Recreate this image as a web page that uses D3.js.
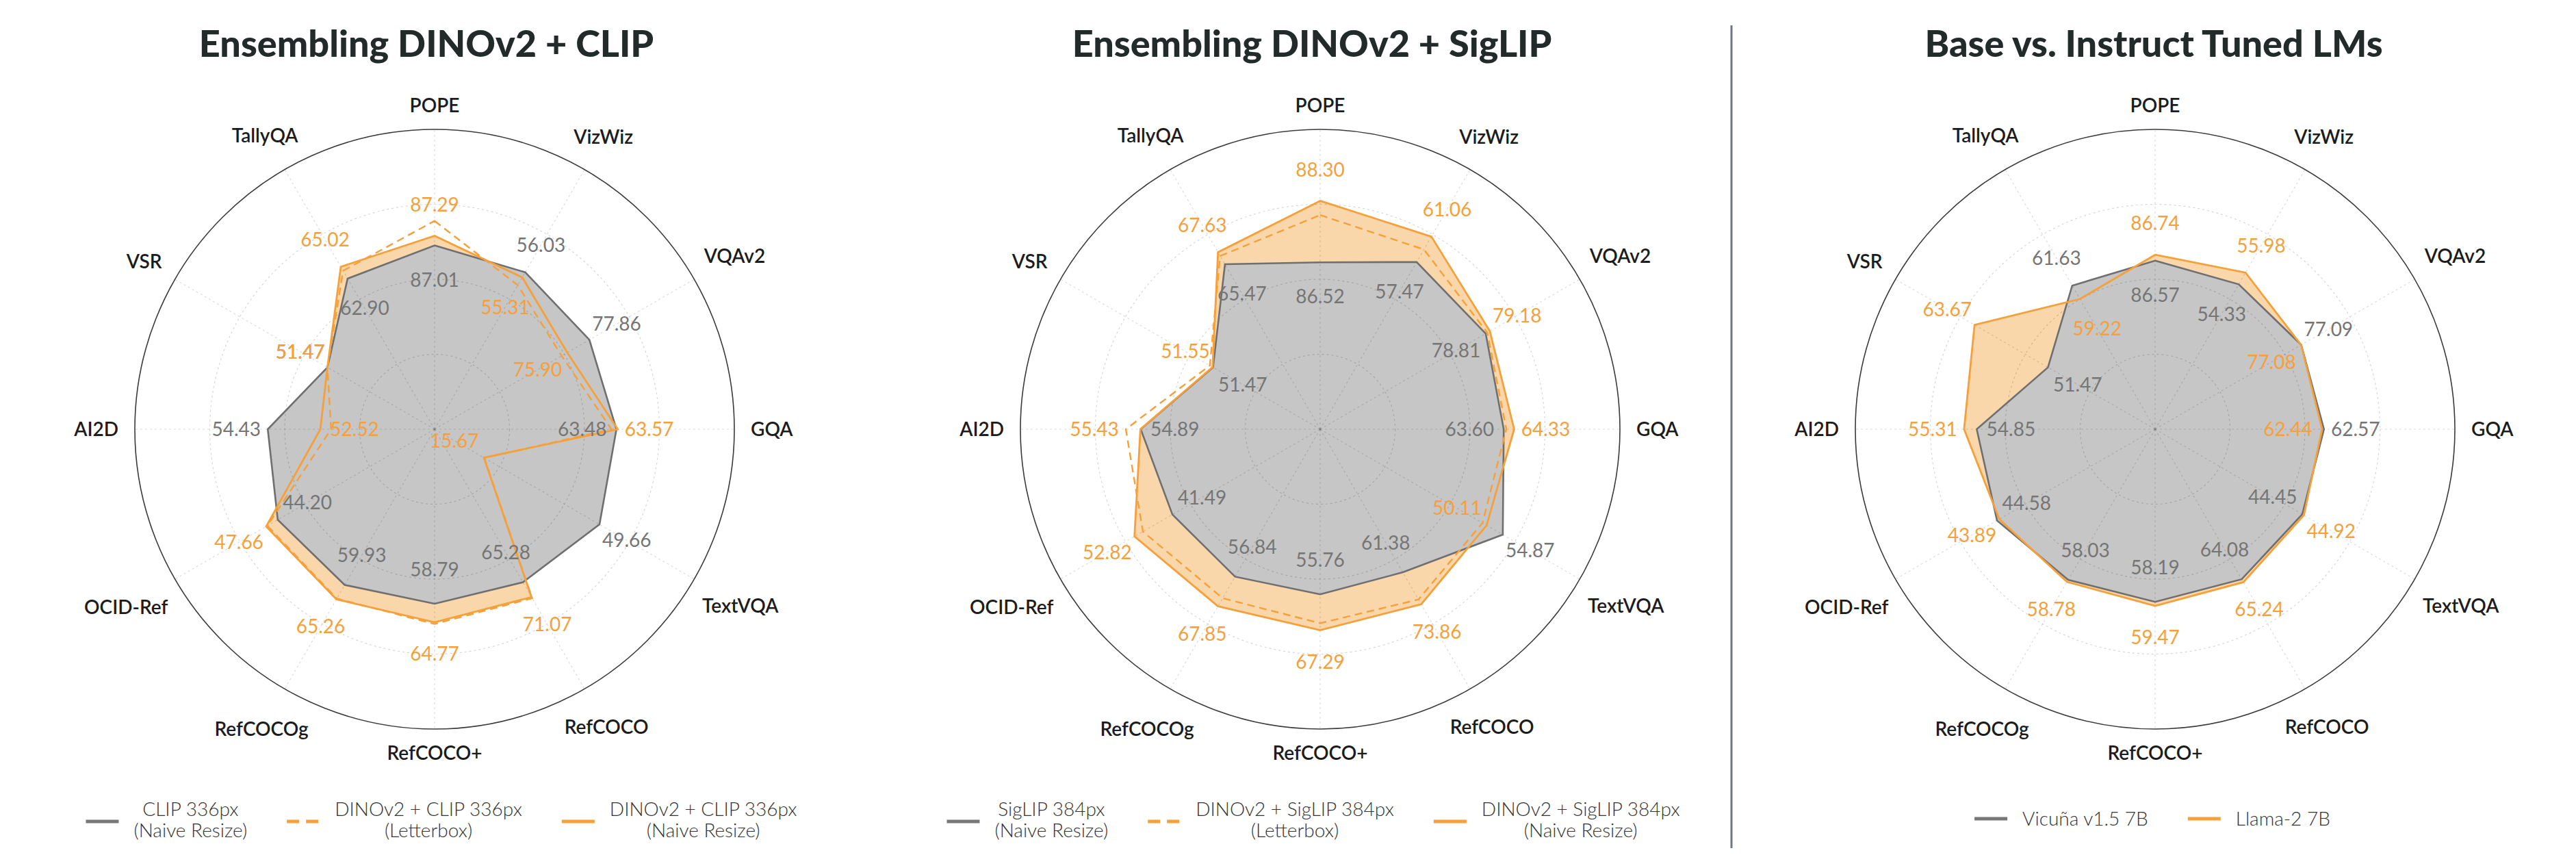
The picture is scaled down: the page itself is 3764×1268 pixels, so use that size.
<!DOCTYPE html>
<html><head><meta charset="utf-8">
<script src="https://cdn.jsdelivr.net/npm/d3@7"></script>
<style>body{margin:0;background:#fff}</style></head>
<body><svg id="chart" width="3764" height="1268"></svg>
<script>
// ---------------- DATA ----------------
const categories = ["POPE","VizWiz","VQAv2","GQA","TextVQA","RefCOCO","RefCOCO+","RefCOCOg","OCID-Ref","AI2D","VSR","TallyQA"];
// radial axis range of each benchmark (value at centre, value at outer circle)
const axisMin = [81.69, 33.92, 64.15, 50.74, 1.17, 5.5, 2.62, 1.96, -2.65, 48.37, 33.67, 35.81];
const axisMax = [90.37, 70.50, 87.14, 71.74, 77.5, 106.9, 99.1, 98.6, 74.9, 59.26, 76.8, 82.5];

// Chart 1 : Ensembling DINOv2 + CLIP
const clip336Naive       = [87.01, 56.03, 77.86, 63.48, 49.66, 65.28, 58.79, 59.93, 44.20, 54.43, 51.47, 62.90];
const dinoClipLetterbox  = [87.72, 54.22, 75.40, 63.13, 15.80, 71.50, 65.30, 65.00, 47.30, 52.13, 51.47, 64.30];
const dinoClipNaive      = [87.29, 55.31, 75.90, 63.57, 15.67, 71.07, 64.77, 65.26, 47.66, 52.52, 51.47, 65.02];
const dinoClipLabels     = [87.29, 55.31, 75.90, 63.57, 15.67, 71.07, 64.77, 65.26, 47.66, 52.52, 51.47, 65.02];

// Chart 2 : Ensembling DINOv2 + SigLIP
const siglip384Naive      = [86.52, 57.47, 78.81, 63.60, 54.87, 61.38, 55.76, 56.84, 41.49, 54.89, 51.47, 65.47];
const dinoSiglipLetterbox = [87.89, 59.24, 78.95, 63.78, 48.90, 72.00, 65.05, 64.85, 50.30, 55.43, 52.00, 66.96];
const dinoSiglipNaive     = [88.30, 61.06, 79.18, 64.33, 50.11, 73.86, 67.29, 67.85, 52.82, 54.90, 51.55, 67.63];
const dinoSiglipLabels    = [88.30, 61.06, 79.18, 64.33, 50.11, 73.86, 67.29, 67.85, 52.82, 55.43, 51.55, 67.63];

// Chart 3 : Base vs. Instruct Tuned LMs
const vicuna7b = [86.57, 54.33, 77.09, 62.57, 44.45, 64.08, 58.19, 58.03, 44.58, 54.85, 51.47, 61.63];
const llama27b = [86.74, 55.98, 77.08, 62.44, 44.92, 65.24, 59.47, 58.78, 43.89, 55.31, 63.67, 59.22];

// ---------------- LAYOUT ----------------
const W = 3764, H = 1268, R = 438, CY = 627;
const ORANGE = "#F5A03A", ORANGE_FILL = "#F9D7AB", GRAY_LINE = "#6f6f6f", GRAY_FILL = "#c6c6c6", GRAY_TEXT = "#757575";
const FONT = "Lato, 'Open Sans', sans-serif";
const OUT = 46, IN = 50;

const charts = [
  { cx: 635, titleShift: -12, title: "Ensembling DINOv2 + CLIP",
    base: clip336Naive, dashed: dinoClipLetterbox, solid: dinoClipNaive, orangeLabels: dinoClipLabels,
    baseSide:   [-1, 1, 1,-1, 1,-1,-1,-1,-1, 1, 1,-1],
    orangeSide: [ 1,-1,-1, 1,-1, 1, 1, 1, 1,-1, 1, 1],
    legend: [ {kind:"gray", lines:["CLIP 336px","(Naive Resize)"]},
              {kind:"dash", lines:["DINOv2 + CLIP 336px","(Letterbox)"]},
              {kind:"solid", lines:["DINOv2 + CLIP 336px","(Naive Resize)"]} ], legendShift: 10 },
  { cx: 1929, titleShift: -12, title: "Ensembling DINOv2 + SigLIP",
    base: siglip384Naive, dashed: dinoSiglipLetterbox, solid: dinoSiglipNaive, orangeLabels: dinoSiglipLabels,
    baseSide:   [-1,-1,-1,-1, 1,-1,-1,-1,-1,-1,-1,-1],
    orangeSide: [ 1, 1, 1, 1,-1, 1, 1, 1, 1, 1, 1, 1],
    legend: [ {kind:"gray", lines:["SigLIP 384px","(Naive Resize)"]},
              {kind:"dash", lines:["DINOv2 + SigLIP 384px","(Letterbox)"]},
              {kind:"solid", lines:["DINOv2 + SigLIP 384px","(Naive Resize)"]} ], legendShift: -10 },
  { cx: 3149, titleShift: -2, title: "Base vs. Instruct Tuned LMs",
    base: vicuna7b, dashed: null, solid: llama27b, orangeLabels: llama27b,
    baseSide:   [-1,-1, 1, 1,-1,-1,-1,-1,-1,-1,-1, 1],
    orangeSide: [ 1, 1,-1,-1, 1, 1, 1, 1, 1, 1, 1,-1],
    legend: [ {kind:"gray", lines:["Vicuña v1.5 7B"]},
              {kind:"solid", lines:["Llama-2 7B"]} ], legendShift: -4 }
];

const svg = d3.select("#chart");
svg.append("rect").attr("width", W).attr("height", H).attr("fill", "#fff");

const n = categories.length;
const angle = d3.scaleLinear().domain([0, n]).range([0, 2 * Math.PI]);
const rScales = categories.map((c, i) => d3.scaleLinear().domain([axisMin[i], axisMax[i]]).range([0, R]));
const radial = d3.lineRadial()
  .angle((d, i) => angle(i))
  .radius((d, i) => rScales[i](d))
  .curve(d3.curveLinearClosed);

function polar(k, r) { const a = angle(k); return [r * Math.sin(a), -r * Math.cos(a)]; }

// separator
svg.append("line").attr("x1", 2530).attr("x2", 2530).attr("y1", 37).attr("y2", 1239)
  .attr("stroke", "#6d7882").attr("stroke-width", 3);

charts.forEach(ch => {
  const g = svg.append("g").attr("transform", `translate(${ch.cx},${CY})`);

  // title
  svg.append("text").attr("x", ch.cx + ch.titleShift).attr("y", 83).attr("text-anchor", "middle")
    .attr("font-family", FONT).attr("font-weight", 900).attr("font-size", 54)
    .attr("fill", "#222a2a").text(ch.title);

  // fills
  g.append("path").attr("d", radial(ch.solid)).attr("fill", ORANGE_FILL).attr("stroke", "none");
  g.append("path").attr("d", radial(ch.base)).attr("fill", GRAY_FILL).attr("stroke", "none");

  // grid
  [0.25, 0.5, 0.75].forEach(f => g.append("circle").attr("r", R * f).attr("fill", "none")
    .attr("stroke", "#000").attr("stroke-opacity", 0.16).attr("stroke-width", 1.2).attr("stroke-dasharray", "3,4"));
  categories.forEach((c, k) => {
    const [x, y] = polar(k, R);
    g.append("line").attr("x1", 0).attr("y1", 0).attr("x2", x).attr("y2", y)
      .attr("stroke", "#000").attr("stroke-opacity", 0.14).attr("stroke-width", 1.2).attr("stroke-dasharray", "3,4");
  });
  g.append("circle").attr("r", R).attr("fill", "none").attr("stroke", "#3a3a3a").attr("stroke-width", 1.6);

  // lines
  g.append("path").attr("d", radial(ch.base)).attr("fill", "none").attr("stroke", GRAY_LINE)
    .attr("stroke-width", 2.6).attr("stroke-linejoin", "miter");
  if (ch.dashed) g.append("path").attr("d", radial(ch.dashed)).attr("fill", "none").attr("stroke", ORANGE)
    .attr("stroke-width", 2.4).attr("stroke-dasharray", "11,7");
  g.append("path").attr("d", radial(ch.solid)).attr("fill", "none").attr("stroke", ORANGE)
    .attr("stroke-width", 2.8);

  // value labels
  function valueLabels(vals, side, color) {
    vals.forEach((v, k) => {
      const r = rScales[k](v) + (side[k] > 0 ? OUT : -IN);
      const [x, y] = polar(k, r);
      g.append("text").attr("x", x).attr("y", y).attr("dy", "0.36em").attr("text-anchor", "middle")
        .attr("font-family", FONT).attr("font-size", 28).attr("fill", color).text(v.toFixed(2));
    });
  }
  valueLabels(ch.base, ch.baseSide, GRAY_TEXT);
  valueLabels(ch.orangeLabels, ch.orangeSide, ORANGE);

  // category labels
  categories.forEach((c, k) => {
    const t = g.append("text").attr("text-anchor", "middle").attr("dy", "0.36em")
      .attr("font-family", FONT).attr("font-weight", 600).attr("font-size", 28).attr("fill", "#1c1c1c").text(c);
    const w = t.node().getComputedTextLength();
    const a = angle(k);
    const d = R + 24 + (w / 2) * Math.abs(Math.sin(a)) + 11 * Math.abs(Math.cos(a));
    const [x, y] = polar(k, d);
    t.attr("x", x).attr("y", y);
  });

  // legend
  const lg = svg.append("g");
  const sampleW = 48, gapST = 22, gapItems = 58;
  const multi = ch.legend[0].lines.length > 1;
  let xcur = 0;
  ch.legend.forEach(it => {
    const ig = lg.append("g");
    const color = it.kind === "gray" ? "#777" : ORANGE;
    const sy = multi ? 1200 : 1196;
    ig.append("line").attr("x1", 0).attr("x2", sampleW).attr("y1", sy).attr("y2", sy)
      .attr("stroke", color).attr("stroke-width", 5)
      .attr("stroke-dasharray", it.kind === "dash" ? "18,10" : null);
    const txt = ig.append("text").attr("font-family", FONT).attr("font-weight", 300).attr("font-size", 28)
      .attr("fill", "#333").attr("text-anchor", multi ? "middle" : "start");
    it.lines.forEach(l => txt.append("tspan").text(l));
    const tw = d3.max(txt.selectAll("tspan").nodes(), nd => nd.getComputedTextLength());
    txt.selectAll("tspan").each(function(d, i) {
      d3.select(this).attr("x", multi ? sampleW + gapST + tw / 2 : sampleW + gapST)
        .attr("y", multi ? 1192 + i * 31 : 1206);
    });
    ig.attr("transform", `translate(${xcur},0)`);
    xcur += sampleW + gapST + tw + gapItems;
  });
  const total = xcur - gapItems;
  lg.attr("transform", `translate(${ch.cx + ch.legendShift - total / 2},0)`);
});
</script>
</body></html>
